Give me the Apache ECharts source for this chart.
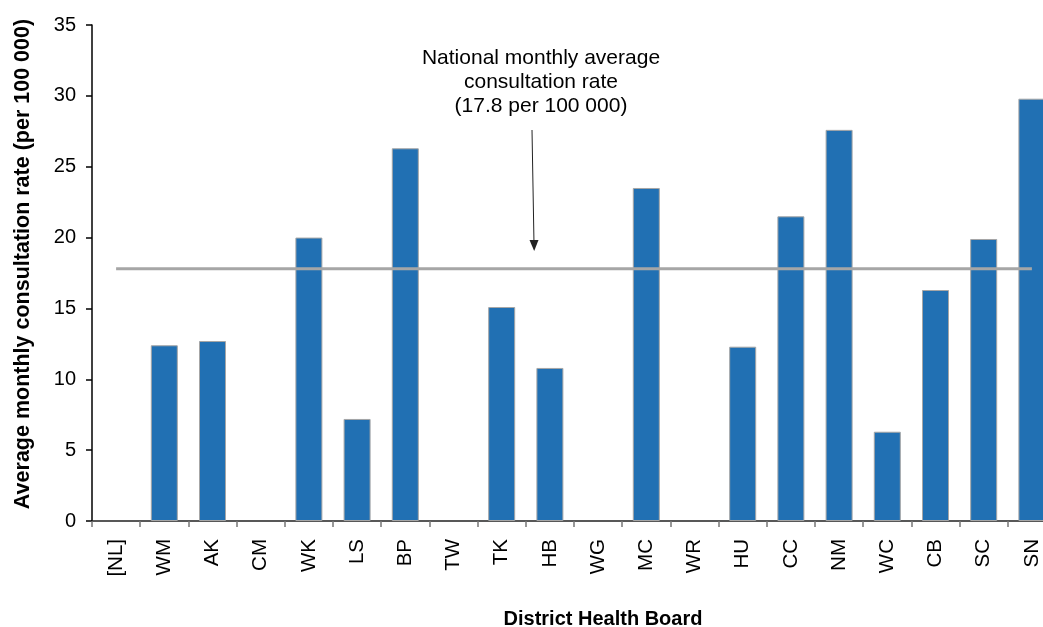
<!DOCTYPE html>
<html>
<head>
<meta charset="utf-8">
<script src="https://cdn.jsdelivr.net/npm/echarts@6/dist/echarts.min.js"></script>
<style>
  html, body { margin: 0; padding: 0; background: #fff; }
  #chartDiv { width: 1043px; height: 627px; }
</style>
</head>
<body>
<div id="chartDiv"></div>
<script>
var boards = ['[NL]', 'WM', 'AK', 'CM', 'WK', 'LS', 'BP', 'TW', 'TK', 'HB', 'WG', 'MC', 'WR', 'HU', 'CC', 'NM', 'WC', 'CB', 'SC', 'SN'];
var rates = [null, 12.4, 12.7, null, 20.0, 7.2, 26.3, null, 15.1, 10.8, null, 23.5, null, 12.3, 21.5, 27.6, 6.3, 16.3, 19.9, 29.8];
var nationalAvg = 17.8;
var avgLine = boards.map(function () { return nationalAvg; });

var myChart = echarts.init(document.getElementById('chartDiv'));

var option = {
    animation: false,
    textStyle: { fontFamily: 'Liberation Sans, Arial, sans-serif' },
    grid: {
        left: 92,
        top: 25,
        width: 964,   // right edge runs past the picture, as in the original crop
        height: 496,
        outerBoundsMode: 'none',
        containLabel: false
    },
    xAxis: {
        type: 'category',
        data: boards,
        boundaryGap: true,
        axisLine: { lineStyle: { color: '#222', width: 1.5 } },
        axisTick: { show: true, length: 6, lineStyle: { color: '#777', width: 1.5 } },
        axisLabel: { rotate: 90, color: '#000', fontSize: 20.5, margin: 18, interval: 0 },
        name: 'District Health Board',
        nameLocation: 'middle',
        nameGap: 88,
        nameTextStyle: { fontWeight: 'bold', fontSize: 20, color: '#000', verticalAlign: 'top', padding: [0, 0, 0, 58] }
    },
    yAxis: {
        type: 'value',
        min: 0,
        max: 35,
        interval: 5,
        axisLine: { show: true, lineStyle: { color: '#000', width: 1.5 } },
        axisTick: { show: true, length: 6, lineStyle: { color: '#000', width: 1.5 } },
        axisLabel: { color: '#000', fontSize: 20, margin: 16 },
        splitLine: { show: false },
        name: 'Average monthly consultation rate (per 100 000)',
        nameLocation: 'middle',
        nameGap: 58,
        nameTextStyle: { fontWeight: 'bold', fontSize: 21.5, color: '#000', padding: [0, 0, 0, 18] }
    },
    series: [
        {
            name: 'rate',
            type: 'bar',
            data: rates,
            barWidth: 27,
            itemStyle: { color: '#2170b3', borderColor: '#a6a6a6', borderWidth: 1 }
        },
        {
            name: 'National average',
            type: 'line',
            data: avgLine,
            symbol: 'none',
            lineStyle: { color: '#a6a6a6', width: 3 },
            z: 5
        }
    ],
    graphic: [
        {
            type: 'text',
            x: 541,
            y: 46,
            style: {
                text: 'National monthly average\nconsultation rate\n(17.8 per 100 000)',
                align: 'center',
                verticalAlign: 'top',
                font: '21px Liberation Sans, Arial, sans-serif',
                fill: '#000',
                lineHeight: 24
            }
        },
        {
            type: 'line',
            shape: { x1: 532, y1: 130, x2: 534, y2: 244 },
            style: { stroke: '#222', lineWidth: 1 }
        },
        {
            type: 'polygon',
            shape: { points: [[529.5, 240], [538.5, 240], [534.2, 251]] },
            style: { fill: '#222' }
        }
    ]
};

myChart.setOption(option);
window.addEventListener('resize', function () {
    myChart.resize();
});
</script>
</body>
</html>
